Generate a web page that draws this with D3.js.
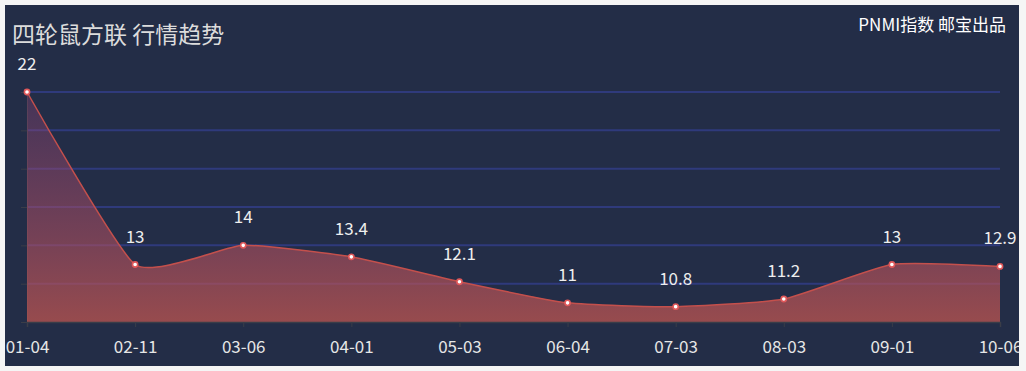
<!DOCTYPE html>
<html>
<head>
<meta charset="utf-8">
<script src="https://cdn.jsdelivr.net/npm/d3@7"></script>
<style>
  html, body { margin: 0; padding: 0; background: #f5f5f5; }
  #chart { position: absolute; left: 5px; top: 5px; width: 1014px; height: 361px; background: #232d47; overflow: hidden; }
  text { font-family: "Noto Sans CJK SC", "Noto Sans", sans-serif; }
</style>
</head>
<body>
<div id="chart"></div>
<script>
const dates = ['01-04', '02-11', '03-06', '04-01', '05-03', '06-04', '07-03', '08-03', '09-01', '10-06'];
const values = [22, 13, 14, 13.4, 12.1, 11, 10.8, 11.2, 13, 12.9];
const yTicks = [10, 12, 14, 16, 18, 20, 22];

const width = 1014, height = 361;
// offsets inside the panel (panel starts at 5,5 on the page)
const plotLeft = 22, plotRight = 995, plotTop = 87, plotBottom = 317;

const svg = d3.select('#chart').append('svg')
    .attr('width', width)
    .attr('height', height);

let x = d3.scalePoint().domain(dates).range([plotLeft, plotRight]);
let y = d3.scaleLinear().domain([10, 22]).range([plotBottom, plotTop]);

let defs = svg.append('defs');
let grad = defs.append('linearGradient')
    .attr('id', 'areaGrad')
    .attr('gradientUnits', 'userSpaceOnUse')
    .attr('x1', 0).attr('y1', plotTop)
    .attr('x2', 0).attr('y2', plotBottom);
grad.append('stop').attr('offset', '0%').attr('stop-color', 'rgb(150,70,125)').attr('stop-opacity', 0.3);
grad.append('stop').attr('offset', '100%').attr('stop-color', 'rgb(190,85,80)').attr('stop-opacity', 0.75);

// grid lines
svg.append('g')
    .selectAll('line')
    .data(yTicks.filter(d => d > 10))
    .enter()
    .append('line')
    .attr('x1', plotLeft).attr('x2', plotRight)
    .attr('y1', d => y(d)).attr('y2', d => y(d))
    .attr('stroke', '#2f3a7c')
    .attr('stroke-width', 2);

// y axis (ticks only)
let yAxis = svg.append('g')
    .attr('transform', `translate(${plotLeft},0)`)
    .call(d3.axisLeft(y).tickValues(yTicks).tickSize(6).tickFormat(''));
yAxis.selectAll('line').attr('stroke', '#3a3d48');
yAxis.select('.domain').attr('stroke', '#3a3d48');

let curve = d3.curveCardinal.tension(0.5);

let area = d3.area()
    .x((d, i) => x(dates[i]))
    .y0(plotBottom)
    .y1(d => y(d))
    .curve(curve);

let line = d3.line()
    .x((d, i) => x(dates[i]))
    .y(d => y(d))
    .curve(curve);

svg.append('path')
    .datum(values)
    .attr('d', area)
    .attr('fill', 'url(#areaGrad)');

svg.append('path')
    .datum(values)
    .attr('d', line)
    .attr('fill', 'none')
    .attr('stroke', '#c4504c')
    .attr('stroke-width', 1.5);

// x axis -- end labels are clipped by the panel, as in the original
let xAxis = svg.append('g')
    .attr('transform', `translate(0,${plotBottom})`)
    .call(d3.axisBottom(x).tickSize(5).tickPadding(14));
xAxis.select('.domain').attr('stroke', '#3a3d48').attr('stroke-width', 1.5);
xAxis.selectAll('line').attr('stroke', '#3a3d48');
xAxis.selectAll('text')
    .attr('fill', '#e6e6e6')
    .style('font-size', '17px');

// points
svg.append('g')
    .selectAll('circle')
    .data(values)
    .enter()
    .append('circle')
    .attr('cx', (d, i) => x(dates[i]))
    .attr('cy', d => y(d))
    .attr('r', 2.6)
    .attr('fill', '#ffffff')
    .attr('stroke', '#e0585a')
    .attr('stroke-width', 1.6);

// value labels
svg.append('g')
    .selectAll('text')
    .data(values)
    .enter()
    .append('text')
    .attr('x', (d, i) => x(dates[i]))
    .attr('y', d => y(d) - 22)
    .attr('text-anchor', 'middle')
    .attr('fill', '#eeeeee')
    .style('font-size', '17px')
    .text(d => d);

// titles
svg.append('text')
    .attr('x', 7)
    .attr('y', 38)
    .attr('fill', '#dcdcdc')
    .style('font-size', '23px')
    .text('四轮鼠方联 行情趋势');

svg.append('text')
    .attr('x', 1001)
    .attr('y', 26)
    .attr('text-anchor', 'end')
    .attr('fill', '#ffffff')
    .style('font-size', '17px')
    .text('PNMI指数 邮宝出品');
</script>
</body>
</html>
